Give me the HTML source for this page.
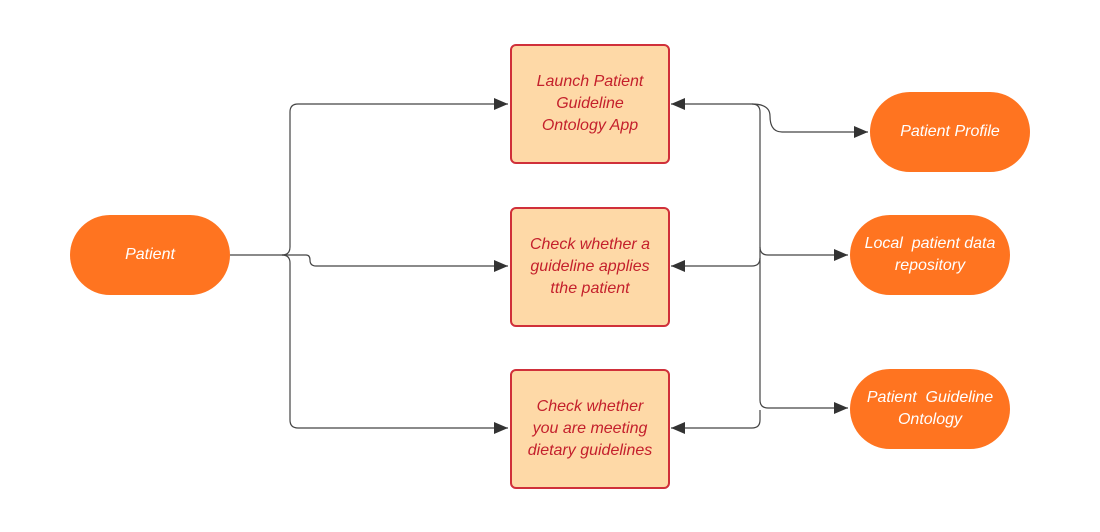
<!DOCTYPE html>
<html><head><meta charset="utf-8"><style>
body{margin:0;width:1100px;height:532px;background:#fff;overflow:hidden;position:relative;font-family:"Liberation Sans",sans-serif;}
.box{position:absolute;width:160px;height:120px;background:#fed9a7;border:2px solid #d0303a;border-radius:6px;box-sizing:border-box;display:flex;align-items:center;justify-content:center;text-align:center;color:#c4202c;font-style:italic;font-size:16px;line-height:22px;}
.pill{position:absolute;width:160px;height:80px;background:#ff7420;border-radius:40px;display:flex;align-items:center;justify-content:center;text-align:center;color:#fff;font-style:italic;font-size:16px;line-height:22px;}
svg{position:absolute;left:0;top:0}
</style></head><body>
<svg width="1100" height="532">
<defs><marker id="a" markerWidth="14" markerHeight="12" refX="14" refY="6" orient="auto" markerUnits="userSpaceOnUse"><path d="M0,0 L14,6 L0,12z" fill="#333"/></marker></defs>
<g fill="none" stroke="#444" stroke-width="1.2">
<path d="M230,255 H282 Q290,255 290,247 V112 Q290,104 298,104 H508" marker-end="url(#a)"/>
<path d="M282,255 Q290,255 290,263 V420 Q290,428 298,428 H508" marker-end="url(#a)"/>
<path d="M282,255 H306 Q310,255 310,260 Q310,266 316,266 H508" marker-end="url(#a)"/>
<path d="M752,104 Q760,104 760,112 V247 Q760,255 768,255 H848" marker-end="url(#a)"/>
<path d="M760,247 V400 Q760,408 768,408 H848" marker-end="url(#a)"/>
<path d="M752,104 H671" marker-end="url(#a)"/>
<path d="M752,104 Q770,104 770,116 Q770,132 782,132 H868" marker-end="url(#a)"/>
<path d="M760,258 Q760,266 752,266 H671" marker-end="url(#a)"/>
<path d="M760,410 V420 Q760,428 752,428 H671" marker-end="url(#a)"/>
</g></svg>
<div class="pill" style="left:70px;top:215px">Patient</div>
<div class="box" style="left:510px;top:44px">Launch Patient<br>Guideline<br>Ontology App</div>
<div class="box" style="left:510px;top:207px">Check whether a<br>guideline applies<br>tthe patient</div>
<div class="box" style="left:510px;top:369px">Check whether<br>you are meeting<br>dietary guidelines</div>
<div class="pill" style="left:870px;top:92px">Patient Profile</div>
<div class="pill" style="left:850px;top:215px">Local&nbsp; patient data<br>repository</div>
<div class="pill" style="left:850px;top:369px">Patient&nbsp; Guideline<br>Ontology</div>
</body></html>
